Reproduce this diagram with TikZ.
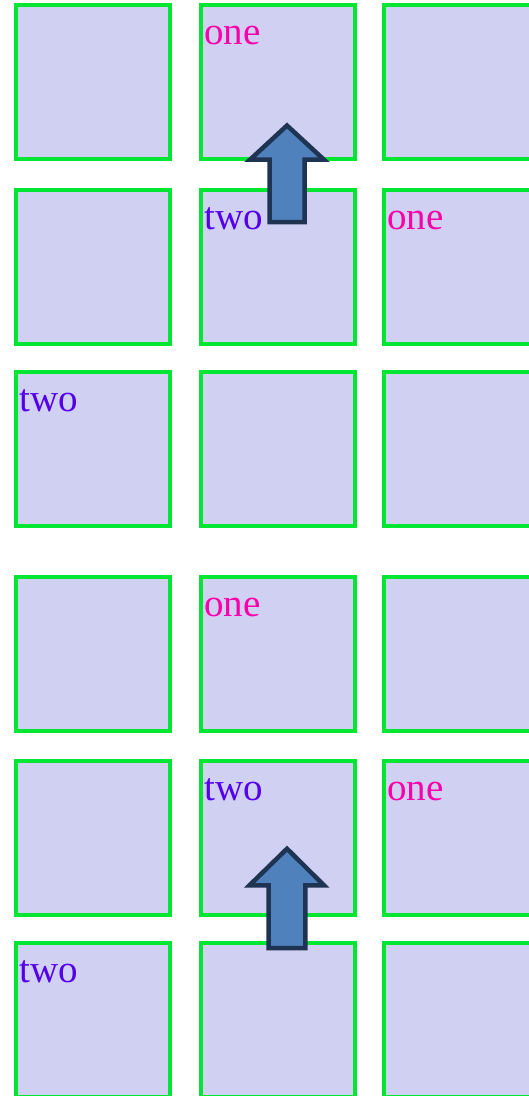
\documentclass[tikz,border=0pt]{standalone}
\usepackage{fontspec}
\setmainfont{Liberation Serif}
\definecolor{cellfill}{RGB}{208,208,243}
\definecolor{cellline}{RGB}{0,230,50}
\definecolor{onecol}{RGB}{250,0,170}
\definecolor{twocol}{RGB}{85,0,235}
\definecolor{arrowfill}{RGB}{79,129,189}
\definecolor{arrowline}{RGB}{30,52,82}
\tikzset{
  cell/.style={draw=cellline, fill=cellfill, line width=4pt, minimum width=154pt,
    minimum height=154pt, inner sep=0pt, outer sep=0pt, anchor=north west},
  lbl/.style={anchor=base west, inner sep=0pt, font=\fontsize{39}{40}\selectfont},
  onetxt/.style={lbl, text=onecol},
  twotxt/.style={lbl, text=twocol},
  uparrow/.style={fill=arrowfill, draw=arrowline, line width=4.5pt, line join=miter}
}
\begin{document}
\begin{tikzpicture}[x=1pt,y=-1pt]
\useasboundingbox (0,0) rectangle (529,1096);
\clip (0,0) rectangle (529,1096);
% rows
\foreach \r/\y in {1/5,2/190,3/372,4/577,5/761,6/943}{
  \foreach \c/\x in {1/16,2/201,3/384}{
    \node[cell] (b\r\c) at (\x,\y) {};
  }
}
% labels
\node[onetxt] (t12) at ([shift={(3,39)}]b12.north west) {one};
\node[twotxt] (t22) at ([shift={(3,39)}]b22.north west) {two};
\node[onetxt] (t23) at ([shift={(3,39)}]b23.north west) {one};
\node[twotxt] (t31) at ([shift={(3,39)}]b31.north west) {two};
\node[onetxt] (t42) at ([shift={(3,39)}]b42.north west) {one};
\node[twotxt] (t52) at ([shift={(3,39)}]b52.north west) {two};
\node[onetxt] (t53) at ([shift={(3,39)}]b53.north west) {one};
\node[twotxt] (t61) at ([shift={(3,39)}]b61.north west) {two};
% arrows
\draw[uparrow] (287,125.5) -- (324,159.7) -- (304.5,159.7) -- (304.5,222) -- (269.5,222)
  -- (269.5,159.7) -- (250,159.7) -- cycle;
\draw[uparrow] (287,848.7) -- (324,885.3) -- (305.3,885.3) -- (305.3,948) -- (268.7,948)
  -- (268.7,885.3) -- (249.5,885.3) -- cycle;
\end{tikzpicture}
\end{document}
